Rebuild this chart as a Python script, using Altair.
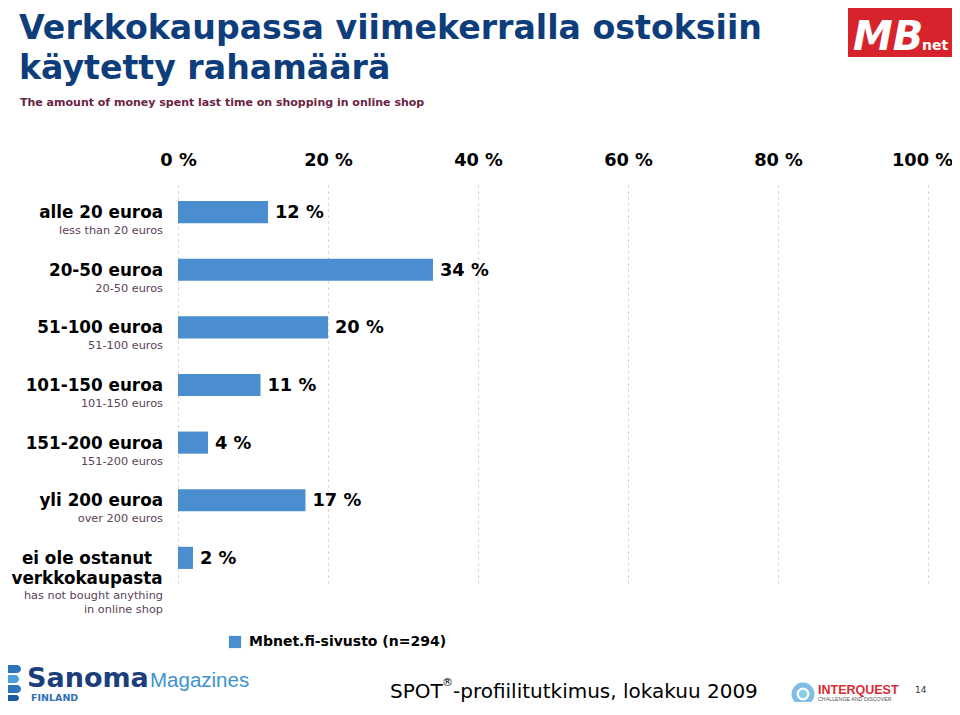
import altair as alt
import pandas as pd

# ---- data ----
cat_fi = ["alle 20 euroa", "20-50 euroa", "51-100 euroa", "101-150 euroa",
          "151-200 euroa", "yli 200 euroa", "ei ole ostanut\nverkkokaupasta"]
cat_en = ["less than 20 euros", "20-50 euros", "51-100 euros", "101-150 euros",
          "151-200 euros", "over 200 euros", "has not bought anything\nin online shop"]
values = [12, 34, 20, 11, 4, 17, 2]
series_name = "Mbnet.fi-sivusto (n=294)"
x_ticks = [0, 20, 40, 60, 80, 100]

df = pd.DataFrame({
    "fi": cat_fi,
    "en": cat_en,
    "v": values,
    "series": [series_name] * len(values),
    "nl": [len(s.split("\n")) for s in cat_fi],
})

FONT = "DejaVu Sans"
SANS = "Liberation Sans, Arial"
BLUE = "#4A8ECF"
PL, PT = 178, 185  # page position of plot origin


def px(x):
    return x - PL


def py(y):
    return y - PT


yenc = alt.Y("fi:N", sort=cat_fi, axis=None,
             scale=alt.Scale(paddingInner=0.616, paddingOuter=0.279))

base = alt.Chart(df)

bars = base.mark_bar().encode(
    x=alt.X("v:Q", scale=alt.Scale(domain=[0, 100]),
            axis=alt.Axis(orient="top", values=x_ticks, labelExpr="datum.value + ' %'",
                          domain=False, ticks=False, labelPadding=16, labelFlush=False,
                          labelOffset={"condition": {"test": "datum.value == 100",
                                                     "value": -6}, "value": 0},
                          labelFont=FONT, labelFontSize=17.8, labelFontWeight="bold",
                          labelColor="#000000", grid=True, gridColor="#C4C4C4",
                          gridDash=[2, 4], gridWidth=1),
            title=None),
    y=yenc,
    color=alt.Color("series:N", scale=alt.Scale(range=[BLUE]),
                    legend=alt.Legend(orient="none", legendX=50, legendY=450, title=None,
                                      symbolType="square", symbolSize=150,
                                      symbolStrokeWidth=0, symbolOpacity=1,
                                      labelFont=FONT, labelFontSize=14,
                                      labelFontWeight="bold", labelColor="#000000",
                                      labelOffset=7, labelLimit=0, padding=0)),
)

val_labels = base.mark_text(align="left", baseline="middle", dx=7, dy=1, font=FONT,
                            fontSize=17.8, fontWeight="bold", color="#000000").encode(
    x="v:Q", y=yenc, text=alt.Text("lbl:N")
).transform_calculate(lbl="datum.v + ' %'")

fi_single = base.mark_text(align="right", baseline="middle", dy=1, font=FONT,
                           fontSize=16.8, fontWeight="bold", color="#000000").encode(
    x=alt.value(px(163)), y=yenc, text="fi:N").transform_filter("datum.nl == 1")

fi_multi = base.mark_text(align="center", baseline="middle", dy=1, font=FONT,
                          fontSize=16.8, fontWeight="bold", color="#000000",
                          lineBreak="\n", lineHeight=20).encode(
    x=alt.value(px(87)), y=yenc, text="fi:N").transform_filter("datum.nl > 1")

en_single = base.mark_text(align="right", baseline="middle", dy=19, font=FONT,
                           fontSize=11.3, color="#5A4258").encode(
    x=alt.value(px(163)), y=yenc, text="en:N").transform_filter("datum.nl == 1")

en_multi = base.mark_text(align="right", baseline="middle", dy=38, font=FONT,
                          fontSize=11.3, color="#5A4258", lineBreak="\n",
                          lineHeight=14).encode(
    x=alt.value(px(163)), y=yenc, text="en:N").transform_filter("datum.nl > 1")


def note(text, x, y, size, color="#000000", weight="normal", align="left",
         baseline="alphabetic", style="normal", font=FONT):
    return alt.Chart(alt.Data(values=[{}])).mark_text(
        text=text, align=align, baseline=baseline, font=font, fontSize=size,
        fontWeight=weight, color=color, fontStyle=style).encode(
        x=alt.value(px(x)), y=alt.value(py(y)))


def box(x1, y1, x2, y2, color, radius=0):
    return alt.Chart(alt.Data(values=[{}])).mark_rect(
        color=color, cornerRadius=radius).encode(
        x=alt.value(px(x1)), x2=alt.value(px(x2)),
        y=alt.value(py(y1)), y2=alt.value(py(y2)))


TITLE_C = "#0D3D7A"
annotations = [
    note("Verkkokaupassa viimekerralla ostoksiin", 19, 39, 33.2, TITLE_C, "bold"),
    note("käytetty rahamäärä", 19, 79, 33.2, TITLE_C, "bold"),
    note("The amount of money spent last time on shopping in online shop", 20, 106,
         11, "#6A2343", "bold"),
    # MB net logo
    box(848, 2, 958, 57, "#D7232B"),
    note("MB", 853, 50, 40, "#FFFFFF", "bold", style="italic"),
    note("net", 922, 50, 14, "#FFFFFF", "bold"),
    # footer
    note("SPOT", 390, 698, 20, "#000000"),
    note("®", 442, 686, 11, "#000000"),
    note("-profiilitutkimus, lokakuu 2009", 453, 698, 20, "#000000"),
    note("14", 915, 693, 9, "#333333"),
    # Sanoma Magazines logo
    box(3, 665, 21, 673, "#2E76BC", 4),
    box(5, 675, 19, 683, "#4AA0DA", 4),
    box(3, 685, 21, 693, "#2E76BC", 4),
    box(5, 695, 19, 701, "#1B5A9E", 3),
    note("Sanoma", 27, 687, 27, "#1C3F7C", "bold"),
    note("Magazines", 150, 687, 20.5, "#3C93D0", font=SANS),
    note("FINLAND", 31, 701, 9.5, "#2F6FB5", "bold"),
    # Interquest logo
    note("INTERQUEST", 818, 694, 12.5, "#D52B33", "bold", font=SANS),
    note("CHALLENGE AND DISCOVER", 818, 701, 5.3, "#555555", font=SANS),
]

circle = alt.Chart(alt.Data(values=[{}])).mark_point(
    shape="circle", filled=False, stroke="#4AA3D8", strokeWidth=5, size=320).encode(
    x=alt.value(px(803)), y=alt.value(py(694)))
circle_in = alt.Chart(alt.Data(values=[{}])).mark_point(
    shape="circle", filled=True, color="#8CCBEA", size=70, opacity=1).encode(
    x=alt.value(px(803)), y=alt.value(py(694)))

chart = alt.layer(bars, val_labels, fi_single, fi_multi, en_single, en_multi,
                  circle, circle_in, *annotations).properties(
    width=750, height=400,
    padding={"left": 170, "top": 177, "right": 24, "bottom": 117},
    autosize=alt.AutoSizeParams(type="none"),
    background="#FFFFFF",
).configure_view(stroke=None)

chart.save("out.html", embed_options={"renderer": "svg", "actions": False})
